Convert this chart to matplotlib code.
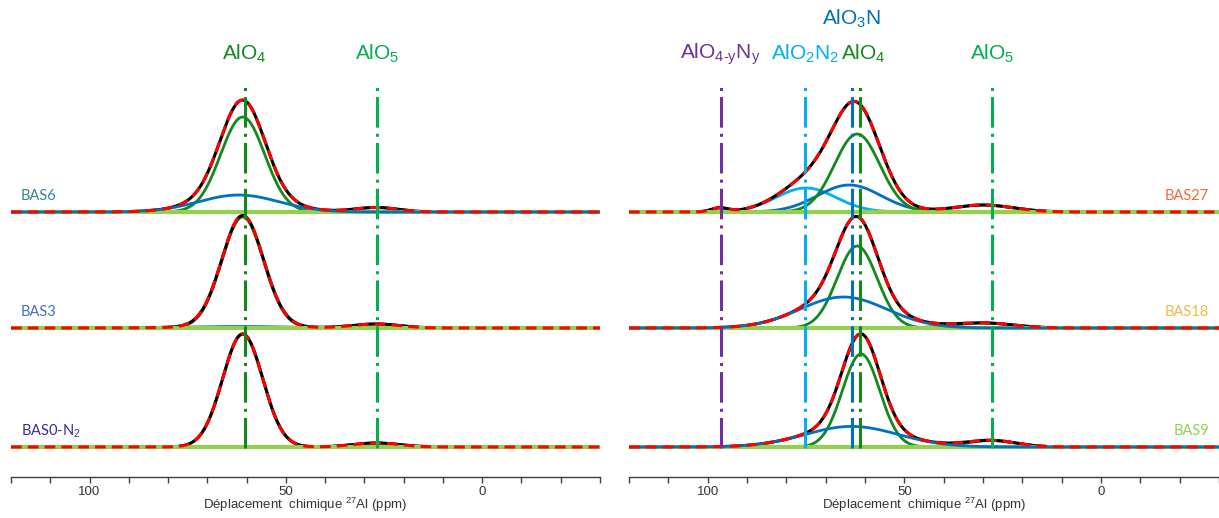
import numpy as np
import matplotlib
matplotlib.use('Agg')
import matplotlib.pyplot as plt

plt.rcParams['font.family'] = ['Liberation Sans', 'DejaVu Sans']
plt.rcParams['mathtext.fontset'] = 'custom'
plt.rcParams['mathtext.rm'] = 'Liberation Sans'
plt.rcParams['mathtext.it'] = 'Liberation Sans:italic'
plt.rcParams['mathtext.bf'] = 'Liberation Sans:bold'

# ---------------- data (ppm, height a.u., FWHM ppm) ----------------
left_samples = ['BAS6', 'BAS3', 'BAS0-N$_2$']
left_alo4 = [(61.0, 95, 13.2), (61.0, 111, 12.5), (61.0, 113, 12.0)]
left_broad = [(62.0, 17, 24), (62.0, 1.5, 30), (62.0, 0, 30)]
left_alo5 = [(27.0, 4.5, 13), (27.0, 4, 14), (27.0, 4, 14)]

right_samples = ['BAS27', 'BAS18', 'BAS9']
right_alo4 = [(62.0, 78, 13.6), (62.0, 82, 12.0), (61.0, 93, 11.2)]
right_alo3n = [(64.0, 27, 19), (65.5, 31, 26), (63.4, 20.6, 28)]
right_alo2n2 = [(75.0, 24, 18), (75.0, 0, 18), (75.0, 0, 18)]
right_alo4yny = [(97.0, 4, 5), (97.0, 0, 5), (97.0, 0, 5)]
right_alo5 = [(30.0, 7, 18), (30.0, 5, 18), (28.0, 6.5, 15)]

left_sites = ['AlO$_4$', 'AlO$_5$']
left_site_ppm = [60.5, 26.8]
right_sites = ['AlO$_{\\text{4-y}}$N$_\\text{y}$', 'AlO$_2$N$_2$', 'AlO$_3$N', 'AlO$_4$', 'AlO$_5$']
right_site_ppm = [96.7, 75.2, 63.4, 61.2, 27.6]

tick_values = [100, 50, 0]

# ---------------- styles ----------------
C_ALO4 = '#14891b'
C_ALO5 = '#00b050'
C_BLUE = '#0070c0'
C_LBLUE = '#00b0f0'
C_PURPLE = '#7030a0'
C_BASE = '#92d050'
left_label_colors = ['#2e8b8b', '#4472c4', '#3d2b94']
right_label_colors = ['#f4683c', '#f2b84b', '#92d050']
left_site_colors = [C_ALO4, C_ALO5]
right_site_colors = [C_PURPLE, C_LBLUE, C_BLUE, C_ALO4, C_ALO5]
right_site_text_y = [423, 423, 458, 423, 423]
left_blue_z = [4.6, 3.0, 3.0]
right_blue_z = [3.0, 4.6, 4.6]

offsets = [265, 149, 30]        # stacking offsets (pixel-like units)
ppm = np.linspace(120, -30, 1501)


def gauss(x, p):
    c, h, w = p
    return h * np.exp(-4 * np.log(2) * ((x - c) / w) ** 2)


W, H = 1219, 518
fig = plt.figure(figsize=(W / 100, H / 100), dpi=100)
spine_y = 477
axL = fig.add_axes([11 / W, (H - spine_y) / H, 589 / W, spine_y / H])
axR = fig.add_axes([629 / W, (H - spine_y) / H, 590 / W, spine_y / H])


def setup(ax):
    ax.set_xlim(120, -30)
    ax.set_ylim(0, spine_y)
    for s in ['top', 'left', 'right']:
        ax.spines[s].set_visible(False)
    ax.spines['bottom'].set_color('#404040')
    ax.spines['bottom'].set_linewidth(1.0)
    ax.set_yticks([])
    ax.set_xticks(tick_values)
    ax.set_xticks(np.arange(120, -31, -10), minor=True)
    ax.tick_params(axis='x', which='both', direction='out', length=4.5,
                   width=1, color='#404040', labelsize=9.5, labelcolor='#333333', pad=2)
    ax.set_xlabel('Déplacement  chimique $^{27}$Al (ppm)', fontsize=9.5,
                  color='#333333', labelpad=-1.5)


def draw_spectrum(ax, off, comps):
    ax.plot(ppm, np.full_like(ppm, off), color=C_BASE, lw=3.0, zorder=4.5,
            solid_capstyle='butt')
    total = np.zeros_like(ppm)
    for p, col, z in comps:
        y = gauss(ppm, p)
        total += y
        if p[1] > 0:
            ax.plot(ppm, off + y, color=col, lw=2.0, zorder=z)
    ax.plot(ppm, off + total, color='black', lw=2.2, zorder=4)
    ax.plot(ppm, off + total, color='#ff0000', lw=2.2, zorder=5,
            dashes=(3.5, 2.0))


setup(axL)
setup(axR)

for i, off in enumerate(offsets):
    draw_spectrum(axL, off, [(left_broad[i], C_BLUE, left_blue_z[i]),
                             (left_alo4[i], C_ALO4, 3),
                             (left_alo5[i], C_ALO4, 3)])
    axL.text(117.5, off + 16, left_samples[i], color=left_label_colors[i],
             fontsize=10.5, family=['Lato', 'DejaVu Sans'], va='center', ha='left')

    draw_spectrum(axR, off, [(right_alo3n[i], C_BLUE, right_blue_z[i]),
                             (right_alo2n2[i], C_LBLUE, 2),
                             (right_alo4yny[i], C_PURPLE, 2),
                             (right_alo4[i], C_ALO4, 3),
                             (right_alo5[i], C_ALO4, 3)])
    axR.text(-27.5, off + 16, right_samples[i], color=right_label_colors[i],
             fontsize=10.5, family=['Lato', 'DejaVu Sans'], va='center', ha='right')

line_top, line_bot = 393, 29
for x, lab, col in zip(left_site_ppm, left_sites, left_site_colors):
    axL.plot([x, x], [line_bot, line_top], color=col, lw=2.2, zorder=6,
             dashes=(10, 2, 1, 2))
    axL.text(x, 423, lab, color=col, fontsize=15, ha='center', va='center')

for x, lab, col, ty in zip(right_site_ppm, right_sites, right_site_colors, right_site_text_y):
    axR.plot([x, x], [line_bot, line_top], color=col, lw=2.2, zorder=6,
             dashes=(10, 2, 1, 2))
    axR.text(x + (-0.7 if lab == 'AlO$_4$' else 0), ty, lab, color=col,
             fontsize=15, ha='center', va='center')

fig.savefig('out.png', dpi=100)
